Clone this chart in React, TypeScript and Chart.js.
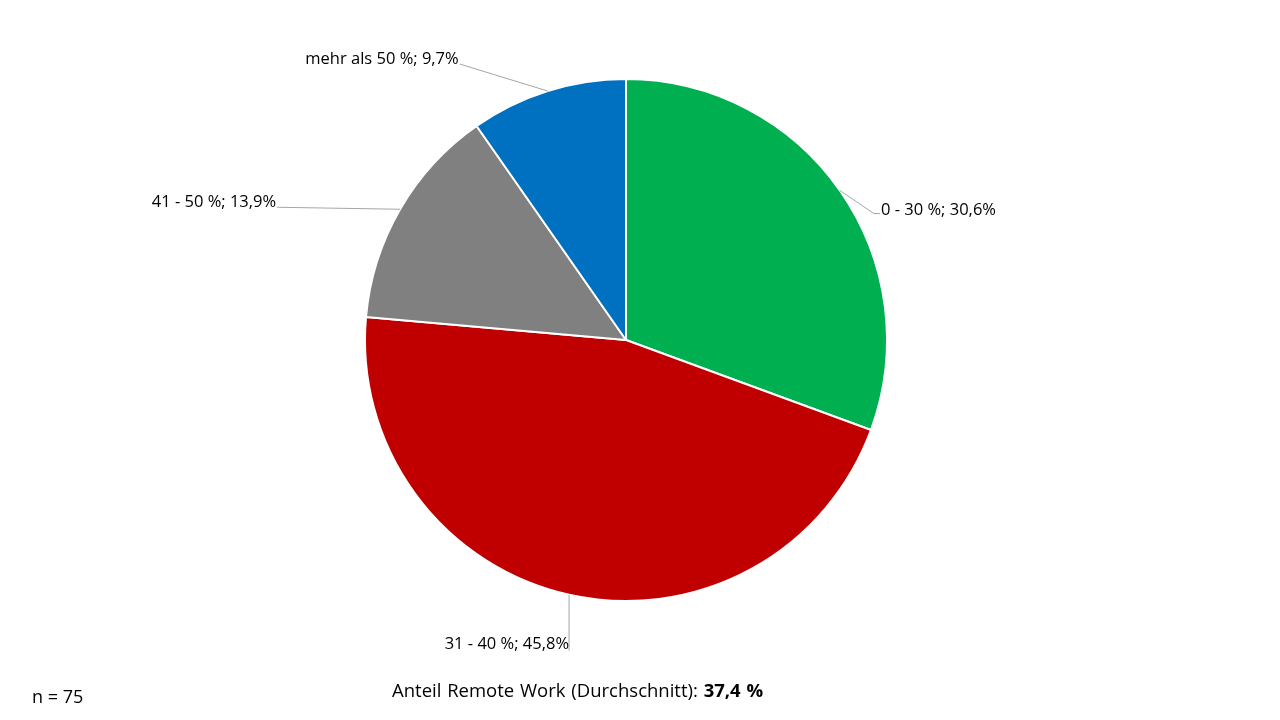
import React, { useEffect, useRef } from "react";
import { Chart, registerables } from "chart.js";

Chart.register(...registerables);

const categories = ["0 - 30 %", "31 - 40 %", "41 - 50 %", "mehr als 50 %"];
const shares = [30.6, 45.8, 13.9, 9.7];
const valueLabels = ["30,6%", "45,8%", "13,9%", "9,7%"];
const colors = ["#00B050", "#C00000", "#808080", "#0070C0"];
// leader-line label offsets relative to slice edge anchor (dx, dy) and side
const labelDx = [34, 0, -123, -88];
const labelDy = [23, 56, -2, -27];
const labelSide = ["right", "below", "left", "left"];

const FONT = "'Open Sans', sans-serif";

const leaderPlugin = {
  id: "leaderLabels",
  afterDatasetsDraw(chart: any) {
    const ctx = chart.ctx;
    const meta = chart.getDatasetMeta(0);
    ctx.save();
    ctx.font = `16.5px ${FONT}`;
    ctx.fillStyle = "#000";
    ctx.strokeStyle = "#A6A6A6";
    ctx.lineWidth = 1;
    meta.data.forEach((arc: any, i: number) => {
      const mid = (arc.startAngle + arc.endAngle) / 2;
      const ax = arc.x + Math.cos(mid) * arc.outerRadius;
      const ay = arc.y + Math.sin(mid) * arc.outerRadius;
      const ex = ax + labelDx[i];
      const ey = ay + labelDy[i];
      const text = `${categories[i]}; ${valueLabels[i]}`;
      ctx.beginPath();
      ctx.moveTo(ax, ay);
      ctx.lineTo(ex, ey);
      if (labelSide[i] === "right") {
        ctx.lineTo(ex + 6, ey);
      }
      ctx.stroke();
      ctx.textBaseline = "alphabetic";
      if (labelSide[i] === "right") {
        ctx.textAlign = "left";
        ctx.fillText(text, ex + 7, ey + 1);
      } else if (labelSide[i] === "below") {
        ctx.textAlign = "right";
        ctx.fillText(text, ex, ey - 2);
      } else {
        ctx.textAlign = "right";
        ctx.fillText(text, ex - 1, ey);
      }
    });
    ctx.restore();
  },
};

export default function App() {
  const ref = useRef<HTMLCanvasElement | null>(null);
  useEffect(() => {
    if (!ref.current) return;
    const chart = new Chart(ref.current, {
      type: "pie",
      data: {
        labels: categories,
        datasets: [
          {
            data: shares,
            backgroundColor: colors,
            borderColor: "#ffffff",
            borderWidth: 2,
          },
        ],
      },
      options: {
        animation: false,
        responsive: false,
        maintainAspectRatio: false,
        layout: { padding: { left: 364, right: 392, top: 78, bottom: 118 } },
        plugins: {
          legend: { display: false },
          tooltip: { enabled: false },
        },
      },
      plugins: [leaderPlugin],
    });
    return () => chart.destroy();
  }, []);

  return (
    <div style={{ position: "fixed", left: 0, top: 0, width: 1280, height: 720, background: "#fff", fontFamily: FONT }}>
      <canvas ref={ref} width={1280} height={720} style={{ position: "absolute", left: 0, top: 0 }} />
      <div style={{ position: "absolute", left: 392, top: 677, whiteSpace: "nowrap", fontSize: 18.5, color: "#000", wordSpacing: 1 }}>
        <span>Anteil Remote Work (Durchschnitt): </span>
        <b>37,4 %</b>
      </div>
      <div style={{ position: "absolute", left: 32, top: 684, fontSize: 18, color: "#000" }}>n = 75</div>
    </div>
  );
}
